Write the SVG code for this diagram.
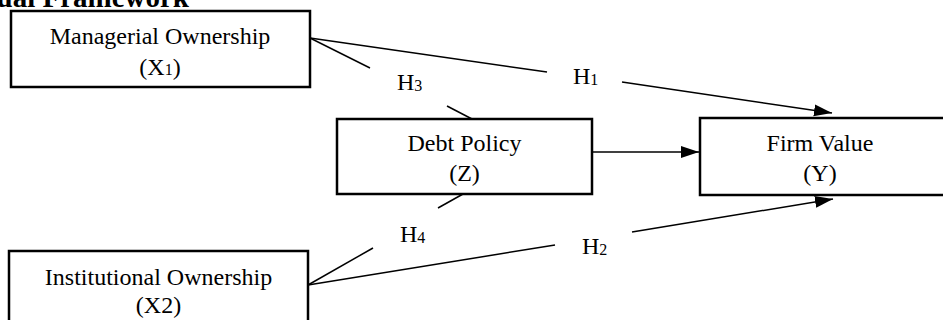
<svg xmlns="http://www.w3.org/2000/svg" width="943" height="320" viewBox="0 0 943 320">
<style>
.box{fill:#fff;stroke:#000;stroke-width:2.5}
.t{font-family:"Liberation Serif","Times New Roman",serif;font-size:24px;fill:#000;text-anchor:middle}
.lbl{font-family:"Liberation Serif","Times New Roman",serif;font-size:24px;fill:#000}
.sub{font-size:16px}
.c{stroke:#000;stroke-width:1.5;fill:none}
.title{font-family:"Liberation Serif","Times New Roman",serif;font-size:29px;font-weight:bold;fill:#000;text-anchor:end}
</style>
<defs>
<marker id="arr" markerUnits="userSpaceOnUse" markerWidth="20" markerHeight="14" refX="18" refY="6" orient="auto">
<path d="M0,0 L18,6 L0,12 z" fill="#000"/>
</marker>
</defs>
<rect width="943" height="320" fill="#fff"/>
<text class="title" x="189" y="7">Conceptual Framework</text>
<g id="connectors">
<line class="c" x1="310" y1="38" x2="547" y2="72"/>
<line class="c" x1="622" y1="82" x2="832" y2="113" marker-end="url(#arr)"/>
<line class="c" x1="310" y1="38" x2="370" y2="68"/>
<line class="c" x1="447" y1="106" x2="472" y2="119"/>
<line class="c" x1="592" y1="152" x2="699" y2="152" marker-end="url(#arr)"/>
<line class="c" x1="308" y1="285" x2="373" y2="248"/>
<line class="c" x1="438" y1="208" x2="463" y2="194"/>
<line class="c" x1="308" y1="285" x2="555" y2="245"/>
<line class="c" x1="632" y1="232" x2="833" y2="199" marker-end="url(#arr)"/>
<text class="lbl" x="573" y="84">H<tspan class="sub" dy="1">1</tspan></text>
<text class="lbl" x="397" y="90">H<tspan class="sub" dy="1">3</tspan></text>
<text class="lbl" x="400" y="242">H<tspan class="sub" dy="1">4</tspan></text>
<text class="lbl" x="582" y="254">H<tspan class="sub" dy="1">2</tspan></text>
</g>
<g id="managerial">
<rect class="box" x="11" y="11" width="299" height="76"/>
<text class="t" x="160" y="44">Managerial Ownership</text>
<text class="t" x="160" y="75">(X<tspan class="sub">1</tspan>)</text>
</g>
<g id="debt">
<rect class="box" x="337" y="119" width="255" height="75"/>
<text class="t" x="464.5" y="151">Debt Policy</text>
<text class="t" x="464.5" y="181">(Z)</text>
</g>
<g id="firm">
<rect class="box" x="700" y="118" width="260" height="77"/>
<text class="t" x="820" y="151">Firm Value</text>
<text class="t" x="820" y="181">(Y)</text>
</g>
<g id="institutional">
<rect class="box" x="9" y="251" width="299" height="80"/>
<text class="t" x="158.5" y="285">Institutional Ownership</text>
<text class="t" x="158.5" y="313">(X2)</text>
</g>
</svg>
